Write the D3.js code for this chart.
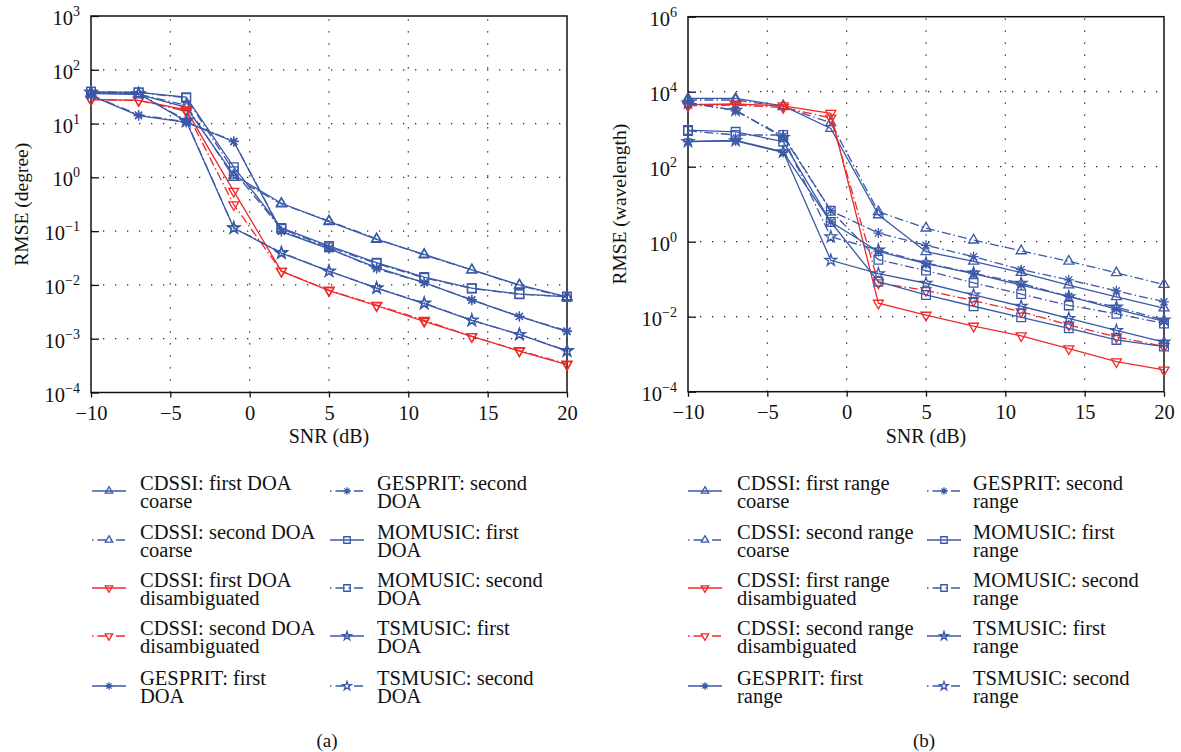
<!DOCTYPE html>
<html>
<head>
<meta charset="utf-8">
<script src="https://cdn.jsdelivr.net/npm/d3@7"></script>
<style>
  body { margin: 0; background: #fff; }
  svg text { font-family: "Liberation Serif", "DejaVu Serif", serif; fill: #111; }
</style>
</head>
<body>
<svg id="chart" width="1181" height="752"></svg>
<script>
// SNR points shared by both panels
const snr = [-10, -7, -4, -1, 2, 5, 8, 11, 14, 17, 20]

// panel (a): DOA RMSE in degree
const doaCdssiFirstCoarse = [36, 35, 20, 1.1, 0.33, 0.15, 0.07, 0.037, 0.019, 0.01, 0.006]
const doaCdssiSecondCoarse = [37, 35, 22, 1.0, 0.32, 0.155, 0.072, 0.036, 0.019, 0.0098, 0.0058]
const doaCdssiFirstDis = [28, 27, 18, 0.55, 0.018, 0.0078, 0.0041, 0.0021, 0.0011, 0.00059, 0.00033]
const doaCdssiSecondDis = [28, 27, 17, 0.31, 0.018, 0.008, 0.0042, 0.0022, 0.0011, 0.0006, 0.00034]
const doaGespritFirst = [33, 14, 10.5, 4.6, 0.098, 0.047, 0.021, 0.011, 0.0052, 0.0026, 0.00135]
const doaGespritSecond = [34, 14.5, 10.8, 4.7, 0.1, 0.048, 0.02, 0.011, 0.0053, 0.0026, 0.0014]
const doaMomusicFirst = [39, 38, 31, 1.55, 0.115, 0.053, 0.026, 0.014, 0.0087, 0.0068, 0.006]
const doaMomusicSecond = [39, 38, 30, 1.3, 0.11, 0.05, 0.025, 0.0135, 0.0086, 0.0067, 0.0061]
const doaTsmusicFirst = [38, 36, 11, 0.114, 0.039, 0.018, 0.0087, 0.0045, 0.0022, 0.0012, 0.00059]
const doaTsmusicSecond = [38, 36, 11.5, 0.115, 0.04, 0.018, 0.0088, 0.0046, 0.0022, 0.0012, 0.0006]

// panel (b): range RMSE in wavelength
const rngCdssiFirstCoarse = [6600, 6600, 4200, 1050, 5.2, 0.54, 0.3, 0.15, 0.07, 0.034, 0.017]
const rngCdssiSecondCoarse = [6000, 6000, 4000, 1480, 6.3, 2.3, 1.1, 0.57, 0.3, 0.148, 0.072]
const rngCdssiFirstDis = [4500, 4700, 4200, 2650, 0.023, 0.011, 0.0056, 0.0031, 0.0014, 0.00063, 0.00038]
const rngCdssiSecondDis = [4200, 4400, 3800, 2000, 0.08, 0.05, 0.027, 0.0136, 0.006, 0.0029, 0.0016]
const rngGespritFirst = [465, 490, 240, 3.35, 0.55, 0.26, 0.14, 0.07, 0.035, 0.016, 0.0075]
const rngGespritSecond = [5200, 3100, 650, 6.7, 1.7, 0.8, 0.4, 0.18, 0.096, 0.049, 0.025]
const rngMomusicFirst = [950, 850, 465, 3.35, 0.086, 0.038, 0.019, 0.0096, 0.0049, 0.0024, 0.0016]
const rngMomusicSecond = [900, 700, 700, 6.7, 0.33, 0.17, 0.08, 0.04, 0.02, 0.012, 0.0066]
const rngTsmusicFirst = [470, 500, 250, 0.32, 0.14, 0.078, 0.038, 0.019, 0.009, 0.0043, 0.0021]
const rngTsmusicSecond = [5000, 3200, 600, 1.35, 0.6, 0.27, 0.145, 0.078, 0.034, 0.018, 0.0082]

const doaNames = ['CDSSI: first DOA|coarse', 'CDSSI: second DOA|coarse', 'CDSSI: first DOA|disambiguated',
  'CDSSI: second DOA|disambiguated', 'GESPRIT: first|DOA', 'GESPRIT: second|DOA', 'MOMUSIC: first|DOA',
  'MOMUSIC: second|DOA', 'TSMUSIC: first|DOA', 'TSMUSIC: second|DOA']
const rngNames = ['CDSSI: first range|coarse', 'CDSSI: second range|coarse', 'CDSSI: first range|disambiguated',
  'CDSSI: second range|disambiguated', 'GESPRIT: first|range', 'GESPRIT: second|range', 'MOMUSIC: first|range',
  'MOMUSIC: second|range', 'TSMUSIC: first|range', 'TSMUSIC: second|range']

const blue = '#3b59a8', red = '#ee2a2a'
const dashDot = '9,3,1.5,3'
// style of each series, same order as the names
let styles = [
  { color: blue, dash: null, marker: 'tri' },
  { color: blue, dash: dashDot, marker: 'tri' },
  { color: red, dash: null, marker: 'triDown' },
  { color: red, dash: dashDot, marker: 'triDown' },
  { color: blue, dash: null, marker: 'ast' },
  { color: blue, dash: dashDot, marker: 'ast' },
  { color: blue, dash: null, marker: 'sq' },
  { color: blue, dash: dashDot, marker: 'sq' },
  { color: blue, dash: null, marker: 'star' },
  { color: blue, dash: dashDot, marker: 'star' }
]

let panels = [
  {
    x0: 91, x1: 567, yTop: 16, yBot: 392.5, yDomain: [1e-4, 1e3], yStep: 1,
    yLabel: 'RMSE (degree)', yLabelX: 21, caption: '(a)',
    data: [doaCdssiFirstCoarse, doaCdssiSecondCoarse, doaCdssiFirstDis, doaCdssiSecondDis, doaGespritFirst,
      doaGespritSecond, doaMomusicFirst, doaMomusicSecond, doaTsmusicFirst, doaTsmusicSecond],
    names: doaNames, legendX: [92, 330], textX: [140, 377]
  },
  {
    x0: 688, x1: 1164, yTop: 16.7, yBot: 391.7, yDomain: [1e-4, 1e6], yStep: 2,
    yLabel: 'RMSE (wavelength)', yLabelX: 619, caption: '(b)',
    data: [rngCdssiFirstCoarse, rngCdssiSecondCoarse, rngCdssiFirstDis, rngCdssiSecondDis, rngGespritFirst,
      rngGespritSecond, rngMomusicFirst, rngMomusicSecond, rngTsmusicFirst, rngTsmusicSecond],
    names: rngNames, legendX: [688, 927], textX: [737, 973]
  }
]

let svg = d3.select('#chart')

function markerPath(type, s) {
  if (type === 'tri' || type === 'triDown') return d3.symbol(d3.symbolTriangle, s * s * 0.43)()
  if (type === 'sq') return d3.symbol(d3.symbolSquare, s * s * 0.75)()
  if (type === 'star') return d3.symbol(d3.symbolStar, s * s * 0.42)()
  let r = s / 2, k = r * 0.7
  return `M${-r},0L${r},0M0,${-r}L0,${r}M${-k},${-k}L${k},${k}M${-k},${k}L${k},${-k}`
}

function drawMarker(g, type, x, y, s, color) {
  g.append('path')
    .attr('d', markerPath(type, s))
    .attr('transform', `translate(${x},${y})` + (type === 'triDown' ? ' rotate(180)' : ''))
    .attr('fill', 'none')
    .attr('stroke', color)
    .attr('stroke-width', 1.3)
}

function powLabel(sel, e) {
  sel.append('tspan').text('10')
  sel.append('tspan').text(e < 0 ? '\u2212' + (-e) : e)
    .attr('font-size', 14).attr('dy', -9)
}

panels.forEach(p => {
  let x = d3.scaleLinear().domain([-10, 20]).range([p.x0, p.x1])
  let y = d3.scaleLog().domain(p.yDomain).range([p.yBot, p.yTop])
  let g = svg.append('g')

  let e0 = Math.log10(p.yDomain[0]), e1 = Math.log10(p.yDomain[1])
  let exps = d3.range(e0, e1 + 0.1, p.yStep)

  // dotted grid
  let grid = g.append('g')
    .attr('stroke', '#222').attr('stroke-width', 1.3).attr('stroke-dasharray', '1.3,10.7')
  ;[-5, 0, 5, 10, 15].forEach(v => {
    grid.append('line').attr('x1', x(v)).attr('x2', x(v)).attr('y1', p.yBot).attr('y2', p.yTop)
  })
  exps.slice(1, -1).forEach(e => {
    grid.append('line').attr('x1', p.x0).attr('x2', p.x1).attr('y1', y(10 ** e)).attr('y2', y(10 ** e))
  })

  // axes box
  g.append('rect').attr('x', p.x0).attr('y', p.yTop).attr('width', p.x1 - p.x0).attr('height', p.yBot - p.yTop)
    .attr('fill', 'none').attr('stroke', '#111').attr('stroke-width', 1.5)

  let xAxis = d3.axisBottom(x).tickValues([-10, -5, 0, 5, 10, 15, 20]).tickSizeInner(5).tickSizeOuter(0)
    .tickFormat(d => d < 0 ? '\u2212' + (-d) : d)
  let xg = g.append('g').attr('transform', `translate(0,${p.yBot})`).call(xAxis)
  xg.select('.domain').remove()
  xg.selectAll('line').attr('stroke', '#111').attr('stroke-width', 1.3)
  xg.selectAll('text').attr('font-size', 20.5).attr('font-family', '"Liberation Serif", serif')
    .attr('fill', '#111').attr('dy', '0.95em')

  let yAxis = d3.axisLeft(y).tickValues(exps.map(e => 10 ** e)).tickSizeInner(-8).tickSizeOuter(0).tickFormat('')
  let yg = g.append('g').attr('transform', `translate(${p.x0},0)`).call(yAxis)
  yg.select('.domain').remove()
  yg.selectAll('line').attr('stroke', '#111').attr('stroke-width', 1.3)
  exps.forEach(e => {
    let t = g.append('text').attr('x', p.x0 - 11).attr('y', y(10 ** e) + 9)
      .attr('text-anchor', 'end').attr('font-size', 20.5)
    powLabel(t, e)
  })

  g.append('text').attr('x', (p.x0 + p.x1) / 2).attr('y', 443).attr('text-anchor', 'middle')
    .attr('font-size', 20).text('SNR (dB)')
  g.append('text').attr('transform', `translate(${p.yLabelX},${(p.yTop + p.yBot) / 2}) rotate(-90)`)
    .attr('text-anchor', 'middle').attr('dy', '0.35em').attr('font-size', 19.5).text(p.yLabel)
  g.append('text').attr('x', (p.x0 + p.x1) / 2 - 2).attr('y', 747).attr('text-anchor', 'middle')
    .attr('font-size', 19).text(p.caption)

  // series
  let line = d3.line().x((d, i) => x(snr[i])).y(d => y(d))
  let plot = g.append('g')
  p.data.forEach((vals, k) => {
    let st = styles[k]
    plot.append('path').datum(vals).attr('d', line)
      .attr('fill', 'none').attr('stroke', st.color).attr('stroke-width', 1.3)
      .attr('stroke-dasharray', st.dash)
    vals.forEach((v, i) => drawMarker(plot, st.marker, x(snr[i]), y(v), 10, st.color))
  })

  // legend, two columns of five; each entry is one text with two lines
  let rows = [491, 540, 588, 636, 686]
  p.names.forEach((name, k) => {
    let col = Math.floor(k / 5), row = k % 5
    let lx = p.legendX[col], ly = rows[row], st = styles[k]
    g.append('line').attr('x1', lx).attr('x2', lx + 34).attr('y1', ly).attr('y2', ly)
      .attr('stroke', st.color).attr('stroke-width', 1.3).attr('stroke-dasharray', st.dash ? '1.5,4,9,4' : null)
    drawMarker(g, st.marker, lx + 17, ly, 7.5, st.color)
    let txt = g.append('text').attr('x', p.textX[col]).attr('y', ly - 1).attr('font-size', 20.5)
    name.split('|').forEach((t, j) => {
      txt.append('tspan').attr('x', p.textX[col]).attr('dy', j === 0 ? 0 : 18).text(t)
    })
  })
})
</script>
</body>
</html>
